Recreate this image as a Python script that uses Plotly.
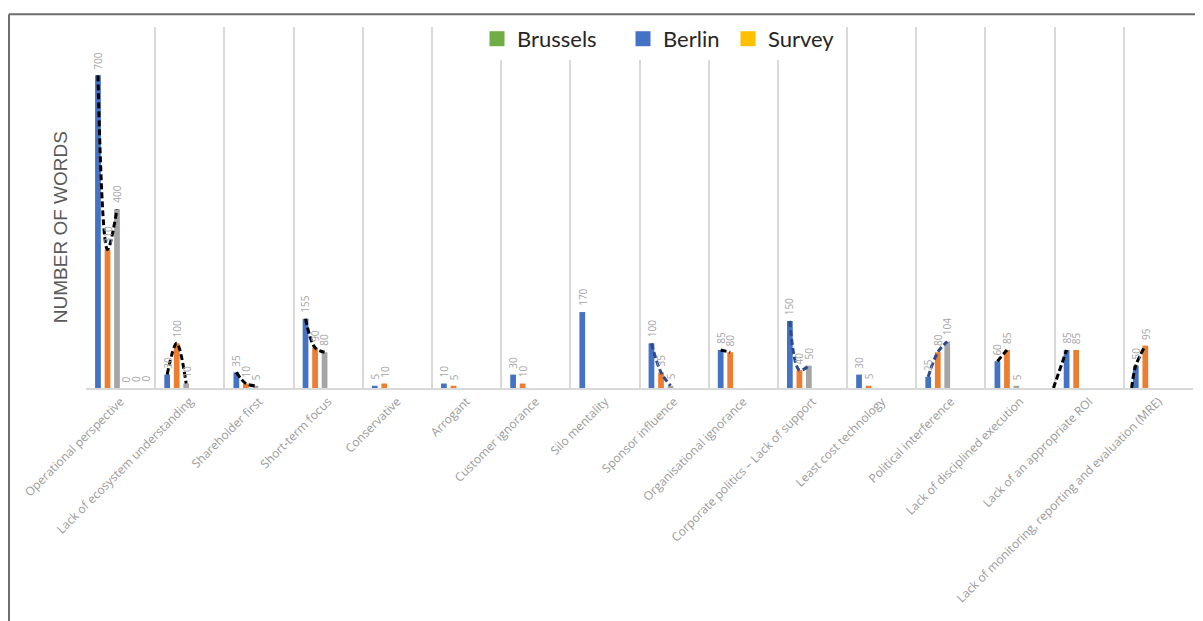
import plotly.graph_objects as go

categories = [
    "Operational perspective", "Lack of ecosystem understanding", "Shareholder first",
    "Short-term focus", "Conservative", "Arrogant", "Customer ignorance", "Silo mentality",
    "Sponsor influence", "Organisational ignorance", "Corporate politics \u2013 Lack of support",
    "Least cost technology", "Political interference", "Lack of disciplined execution",
    "Lack of an appropriate ROI", "Lack of monitoring, reporting and evaluation (MRE)",
]
blue_vals = [700, 30, 35, 155, 5, 10, 30, 170, 100, 85, 150, 30, 25, 60, 85, 50]
orange_vals = [310, 100, 10, 90, 10, 5, 10, None, 35, 80, 40, 5, 80, 85, 85, 95]
gray_vals = [400, 10, 5, 80, None, None, None, None, 5, None, 50, None, 104, 5, None, None]
s4_vals = [0] + [None] * 15
s5_vals = [0] + [None] * 15
s6_vals = [0] + [None] * 15
legend_names = ["Brussels", "Berlin", "Survey"]

# trend (dashed) lines: category index -> series passed through ("base" = start at the axis)
trend_black = {0: [0, 1, 2], 1: [0, 1, 2], 2: [0, 1, 2], 3: [0, 1, 2],
               9: [0, 1], 13: [0, 1], 14: ["base", 0], 15: ["base", 0, 1]}
trend_blue = {8: [0, 1, 2], 10: [0, 1, 2], 12: [0, 1, 2]}
base_shift = {14: -0.19, 15: -0.06}

series = [blue_vals, orange_vals, gray_vals, s4_vals, s5_vals, s6_vals]
colors = ["#4472C4", "#ED7D31", "#A5A5A5", "#FFC000", "#5B9BD5", "#70AD47"]
offsets = [-0.327, -0.189, -0.052, 0.085, 0.223, 0.36]
bw = 0.083
legend_colors = ["#70AD47", "#4472C4", "#FFC000"]
legend_ids = ["legend", "legend2", "legend3"]
legend_x = [0.3532, 0.4851, 0.5799]

x_idx = list(range(len(categories)))
fig = go.Figure()
annotations = []
for vals, col, off in zip(series, colors, offsets):
    fig.add_trace(go.Bar(
        x=x_idx, y=vals, width=bw, offset=off - bw / 2,
        marker=dict(color=col, line=dict(width=0)),
        showlegend=False, hoverinfo="skip",
    ))
    for i, v in enumerate(vals):
        if v is None:
            continue
        annotations.append(dict(x=i + off, y=v, text=str(v), showarrow=False,
                                textangle=-90, xanchor="center", yanchor="bottom",
                                yshift=4, font=dict(size=10, color="#A6A6A6", family="Open Sans")))

def trend_trace(spec, color):
    xs, ys = [], []
    for cat, sidx in spec.items():
        for s in sidx:
            if s == "base":
                xs.append(cat + offsets[0] + base_shift[cat])
                ys.append(0)
            else:
                xs.append(cat + offsets[s])
                ys.append(series[s][cat])
        xs.append(None)
        ys.append(None)
    return go.Scatter(x=xs, y=ys, mode="lines",
                      line=dict(color=color, width=3, dash="6px,3px", shape="spline"),
                      showlegend=False, hoverinfo="skip", cliponaxis=False)

fig.add_trace(trend_trace(trend_black, "#000000"))
fig.add_trace(trend_trace(trend_blue, "#2F4A8A"))

for name, col, lid in zip(legend_names, legend_colors, legend_ids):
    fig.add_trace(go.Scatter(x=[None], y=[None], name=name, mode="markers", legend=lid,
                             marker=dict(color=col, symbol="square", size=15)))

W, H = 1195, 613
L, R, T, B = 78, 10, 14, 233
pw, ph = W - L - R, H - T - B

annotations.append(dict(text="NUMBER OF WORDS", xref="paper", yref="paper",
                        x=(52 - L) / pw, y=(H - B - 217) / ph, textangle=-90,
                        showarrow=False, xanchor="center", yanchor="middle",
                        font=dict(size=19, color="#595959", family="Liberation Sans")))

def legend_cfg(x):
    return dict(orientation="h", x=x, y=0.967, xanchor="left", yanchor="middle",
                bgcolor="white", font=dict(size=22, color="#262626", family="Lato"),
                itemwidth=30)

fig.update_layout(
    width=W, height=H,
    margin=dict(l=L, r=R, t=T, b=B),
    paper_bgcolor="white", plot_bgcolor="white",
    barmode="overlay",
    font=dict(family="Lato"),
    legend=legend_cfg(legend_x[0]),
    legend2=legend_cfg(legend_x[1]),
    legend3=legend_cfg(legend_x[2]),
    xaxis=dict(range=[-0.5, 15.5], tickmode="array", tickvals=x_idx, ticktext=categories,
               tickangle=-45, tickfont=dict(size=12, color="#9A9A9A", family="Open Sans"),
               showgrid=False, zeroline=False, showline=True, linecolor="#D9D9D9", linewidth=1.5,
               ticks="",
               minor=dict(tickmode="array", tickvals=[i - 0.5 for i in range(len(categories) + 1)],
                          showgrid=True, gridcolor="#D9D9D9", gridwidth=1.5, ticks="")),
    yaxis=dict(range=[0, 808], showgrid=False, zeroline=False, showticklabels=False, ticks=""),
    shapes=[
        dict(type="line", xref="paper", yref="paper",
             x0=(1 - L) / pw, x1=(1200 - L) / pw, y0=(H - B - 1) / ph, y1=(H - B - 1) / ph,
             line=dict(color="#6E6E6E", width=2), layer="below"),
        dict(type="line", xref="paper", yref="paper",
             x0=(1 - L) / pw, x1=(1 - L) / pw, y0=(H - B - 1) / ph, y1=(H - B - 660) / ph,
             line=dict(color="#6E6E6E", width=2), layer="below"),
    ],
    annotations=annotations,
)

fig.write_html("out.html")
